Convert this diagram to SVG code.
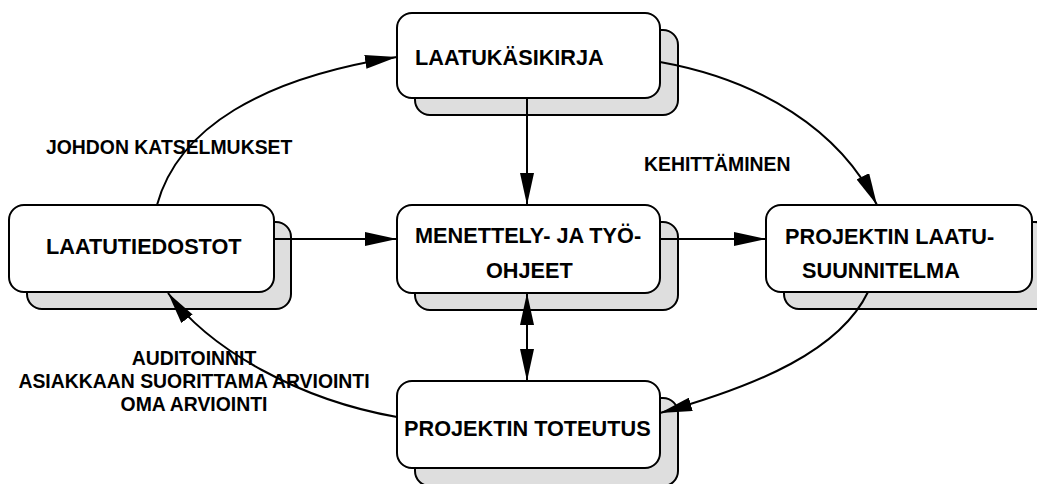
<svg xmlns="http://www.w3.org/2000/svg" width="1037" height="484" viewBox="0 0 1037 484">
  <defs>
    <style>
      .shadow { fill: #dedede; stroke: #000; stroke-width: 2; }
      .box { fill: #fff; stroke: #000; stroke-width: 2; }
      .node-text { font-family: "Liberation Sans", Arial, sans-serif; font-weight: bold; font-size: 21.7px; fill: #000; }
      .label { font-family: "Liberation Sans", Arial, sans-serif; font-weight: bold; font-size: 19.4px; fill: #000; }
      .edge { fill: none; stroke: #000; stroke-width: 2; }
    </style>
    <marker id="arrow" markerUnits="userSpaceOnUse" markerWidth="32" markerHeight="14" refX="32" refY="7" orient="auto-start-reverse" viewBox="0 0 32 14">
      <path d="M0,0 L32,7 L0,14 z" fill="#000"/>
    </marker>
  </defs>

  <rect width="1037" height="484" fill="#fff"/>

  <!-- Nodes: each box has a grey drop shadow offset down-right -->
  <g id="node-laatukasikirja">
    <rect class="shadow" x="415" y="30" width="263" height="85" rx="15"/>
    <rect class="box" x="397" y="13" width="263" height="85" rx="15"/>
    <text class="node-text" x="415" y="65">LAATUKÄSIKIRJA</text>
  </g>

  <g id="node-laatutiedostot">
    <rect class="shadow" x="27" y="222" width="264" height="87" rx="15"/>
    <rect class="box" x="9" y="205" width="265" height="87" rx="15"/>
    <text class="node-text" x="46" y="254">LAATUTIEDOSTOT</text>
  </g>

  <g id="node-menettely">
    <rect class="shadow" x="415" y="222" width="263" height="88" rx="15"/>
    <rect class="box" x="397" y="205" width="263" height="88" rx="15"/>
    <text class="node-text" x="415" y="243">MENETTELY- JA TYÖ-</text>
    <text class="node-text" x="486" y="278">OHJEET</text>
  </g>

  <g id="node-laatusuunnitelma">
    <rect class="shadow" x="784" y="222" width="266" height="87" rx="15"/>
    <rect class="box" x="766" y="205" width="266" height="87" rx="15"/>
    <text class="node-text" x="785" y="244">PROJEKTIN LAATU-</text>
    <text class="node-text" x="802" y="278">SUUNNITELMA</text>
  </g>

  <g id="node-toteutus">
    <rect class="shadow" x="415" y="398" width="263" height="88" rx="15"/>
    <rect class="box" x="397" y="381" width="263" height="87" rx="15"/>
    <text class="node-text" x="404" y="436">PROJEKTIN TOTEUTUS</text>
  </g>

  <!-- Connectors -->
  <g id="connectors">
    <path class="edge" d="M157,205 C178,128 262,78 397,57" marker-end="url(#arrow)"/>
    <path class="edge" d="M660,62 C760,80 840,130 877,205" marker-end="url(#arrow)"/>
    <path class="edge" d="M868,292 C840,350 760,385 660,413" marker-end="url(#arrow)"/>
    <path class="edge" d="M397,417 C300,400 210,350 168,293" marker-end="url(#arrow)"/>
    <path class="edge" d="M527,98 L527,205" marker-end="url(#arrow)"/>
    <path class="edge" d="M274,239 L397,239" marker-end="url(#arrow)"/>
    <path class="edge" d="M660,239 L766,239" marker-end="url(#arrow)"/>
    <path class="edge" d="M527,293 L527,381" marker-start="url(#arrow)" marker-end="url(#arrow)"/>
  </g>

  <!-- Connector labels -->
  <g id="labels">
    <text class="label" x="46" y="154">JOHDON KATSELMUKSET</text>
    <text class="label" x="644" y="171">KEHITTÄMINEN</text>
    <text class="label" x="194" y="365" text-anchor="middle">AUDITOINNIT</text>
    <text class="label" x="194" y="388" text-anchor="middle">ASIAKKAAN SUORITTAMA ARVIOINTI</text>
    <text class="label" x="194" y="411" text-anchor="middle">OMA ARVIOINTI</text>
  </g>
</svg>
